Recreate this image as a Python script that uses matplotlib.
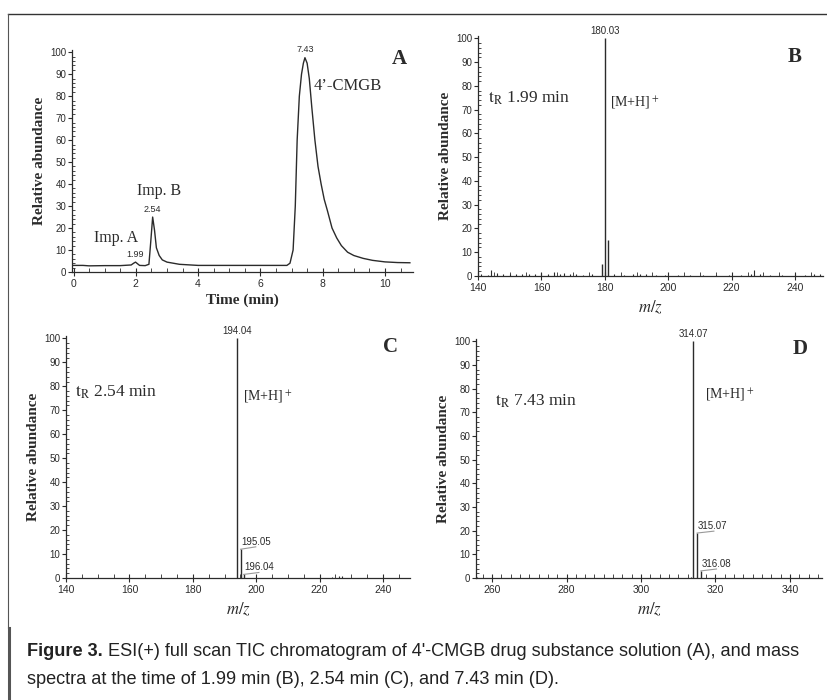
import matplotlib
matplotlib.use("Agg")
import matplotlib.pyplot as plt
from matplotlib.ticker import MultipleLocator
from matplotlib.lines import Line2D

plt.rcParams['mathtext.fontset'] = 'stix'

# ---------------- data ----------------
# Panel A: TIC chromatogram (time in min, relative abundance)
tic_time = [0.0, 0.3, 0.5, 1.0, 1.5, 1.85, 1.93, 1.99, 2.05, 2.12, 2.3, 2.42, 2.48, 2.54,
            2.6, 2.66, 2.75, 2.85, 3.0, 3.2, 3.4, 4.0, 5.0, 6.0, 6.5, 6.85, 6.95, 7.05,
            7.12, 7.18, 7.25, 7.32, 7.38, 7.43, 7.5, 7.57, 7.65, 7.75, 7.85, 7.95, 8.05,
            8.15, 8.3, 8.45, 8.6, 8.8, 9.0, 9.3, 9.6, 10.0, 10.4, 10.8]
tic_abund = [3.0, 3.0, 2.8, 2.9, 2.9, 3.2, 4.0, 4.5, 3.8, 3.0, 2.9, 3.5, 14.0, 25.0,
             19.0, 11.0, 7.5, 5.5, 4.5, 4.0, 3.5, 3.0, 3.0, 3.0, 3.0, 3.0, 4.0, 10.0,
             30.0, 60.0, 80.0, 90.0, 95.0, 97.5, 95.0, 88.0, 75.0, 60.0, 48.0, 40.0, 33.0,
             28.0, 20.0, 15.5, 12.0, 9.0, 7.5, 6.2, 5.3, 4.6, 4.3, 4.2]
tic_peak_times = [1.99, 2.54, 7.43]
tic_peak_labels = ["1.99", "2.54", "7.43"]

# Panel B: spectrum at 1.99 min
b_mz = [179.0, 180.03, 181.0]
b_int = [5.0, 100.0, 15.0]
b_noise_mz = [141, 143, 144, 146, 148, 150, 152, 154, 156, 158, 160, 162, 164, 166, 167, 169,
              171, 173, 176, 183, 186, 189, 191, 193, 196, 199, 203, 207, 211, 215, 219, 223,
              226, 227, 229, 232, 236, 240, 243, 246, 248]
b_noise_int = [0.8, 0.6, 2.5, 1.2, 0.7, 0.9, 1.0, 0.8, 0.7, 1.0, 1.2, 0.8, 1.5, 0.8, 1.2, 1.0,
               0.8, 0.6, 0.7, 0.8, 0.6, 0.9, 1.0, 0.8, 0.5, 0.6, 0.5, 0.6, 0.5, 0.6, 0.5, 0.6,
               1.0, 2.5, 1.0, 0.6, 0.6, 0.7, 0.6, 0.8, 0.8]

# Panel C: spectrum at 2.54 min
c_mz = [194.04, 195.05, 196.04]
c_int = [100.0, 12.0, 1.5]
c_noise_mz = [224, 226, 227]
c_noise_int = [0.6, 1.0, 0.8]

# Panel D: spectrum at 7.43 min
d_mz = [314.07, 315.07, 316.08]
d_int = [100.0, 19.0, 3.0]
d_noise_mz = [256, 313.5, 345]
d_noise_int = [0.5, 0.5, 0.6]

caption_bold = 'Figure 3.'
caption_line1 = " ESI(+) full scan TIC chromatogram of 4'-CMGB drug substance solution (A), and mass"
caption_line2 = 'spectra at the time of 1.99 min (B), 2.54 min (C), and 7.43 min (D).'

# ---------------- figure ----------------
W, H = 827, 700
fig = plt.figure(figsize=(W / 100, H / 100), dpi=100)
fig.patch.set_facecolor('white')

SERIF = 'Liberation Serif'
SANS = 'Liberation Sans'
INK = '#2b2b2b'


def px_axes(left, right, y_top, y_bottom):
    return fig.add_axes([left / W, (H - y_bottom) / H, (right - left) / W, (y_bottom - y_top) / H])


def style(ax, xmaj, xmin):
    for s in ('top', 'right'):
        ax.spines[s].set_visible(False)
    for s in ('left', 'bottom'):
        ax.spines[s].set_color(INK)
        ax.spines[s].set_linewidth(0.9)
    ax.yaxis.set_major_locator(MultipleLocator(10))
    ax.yaxis.set_minor_locator(MultipleLocator(2))
    ax.xaxis.set_major_locator(MultipleLocator(xmaj))
    ax.xaxis.set_minor_locator(MultipleLocator(xmin))
    ax.tick_params(axis='y', which='major', direction='out', length=3, width=0.8,
                   labelsize=7, colors=INK, pad=1)
    ax.tick_params(axis='y', which='minor', direction='in', length=2.5, width=0.6, colors=INK)
    ax.tick_params(axis='x', which='major', direction='inout', length=6, width=0.8,
                   labelsize=7.5, colors=INK, pad=2)
    ax.tick_params(axis='x', which='minor', direction='in', length=3, width=0.6, colors=INK)
    for lab in ax.get_xticklabels() + ax.get_yticklabels():
        lab.set_fontfamily(SANS)
    ax.set_ylim(0, 101)
    ax.set_ylabel('Relative abundance', fontfamily=SERIF, fontweight='bold', fontsize=11,
                  color=INK, labelpad=3)


def mz_label(ax):
    ax.set_xlabel('$m/z$', fontsize=12, color=INK, labelpad=4)


# ---- Panel A ----
axA = px_axes(72, 413, 50, 272)
axA.plot(tic_time, tic_abund, color=INK, lw=1.0)
axA.set_xlim(-0.05, 10.9)
style(axA, 2, 0.5)
axA.set_xlabel('Time (min)', fontfamily=SERIF, fontweight='bold', fontsize=11, color=INK,
               labelpad=3)
for t, lab in zip(tic_peak_times, tic_peak_labels):
    i = tic_time.index(t)
    axA.annotate(lab, (t, tic_abund[i]), xytext=(0, 2.5), textcoords='offset points',
                 ha='center', va='bottom', fontsize=6.5, fontfamily=SANS, color=INK)
axA.text(0.67, 15.3, 'Imp. A', fontfamily=SERIF, fontsize=11.5, color=INK, va='center')
axA.text(2.03, 37, 'Imp. B', fontfamily=SERIF, fontsize=11.5, color=INK, va='center')
axA.text(7.72, 84.7, '4\u2019-CMGB', fontfamily=SERIF, fontsize=12, color=INK, va='center')
axA.text(10.45, 96.8, 'A', fontfamily=SERIF, fontweight='bold', fontsize=15, color=INK,
         ha='center', va='center')


def spectrum(ax, mz, inten, nmz, nint):
    ax.vlines(nmz, 0, nint, color=INK, lw=0.8)
    ax.vlines(mz, 0, inten, color=INK, lw=1.0)


# ---- Panel B ----
axB = px_axes(478, 823, 36, 276)
spectrum(axB, b_mz, b_int, b_noise_mz, b_noise_int)
axB.set_xlim(140, 248.8)
style(axB, 20, 5)
mz_label(axB)
axB.annotate('180.03', (b_mz[1], 100), xytext=(0, 2), textcoords='offset points',
             ha='center', va='bottom', fontsize=7, fontfamily=SANS, color=INK)
axB.text(143.1, 74.6, r'$\mathrm{t}_\mathrm{R}$ 1.99 min', fontfamily=SERIF, fontsize=12.5,
         color=INK, va='center')
axB.text(181.5, 73, r'[M+H]$^+$', fontfamily=SERIF, fontsize=10, color=INK, va='center')
axB.text(239.7, 92, 'B', fontfamily=SERIF, fontweight='bold', fontsize=15, color=INK,
         ha='center', va='center')

# ---- Panel C ----
axC = px_axes(66, 410, 336, 578)
spectrum(axC, c_mz, c_int, c_noise_mz, c_noise_int)
axC.set_xlim(140, 248.5)
style(axC, 20, 5)
mz_label(axC)
axC.annotate('194.04', (c_mz[0], 100), xytext=(0, 2), textcoords='offset points',
             ha='center', va='bottom', fontsize=7, fontfamily=SANS, color=INK)
axC.plot([c_mz[1], c_mz[1] + 4.8], [c_int[1], c_int[1] + 1.0], color='#999999', lw=0.8)
axC.text(c_mz[1] + 0.1, c_int[1] + 1.8, '195.05', fontsize=7, fontfamily=SANS, color=INK)
axC.plot([c_mz[2], c_mz[2] + 4.8], [c_int[2], c_int[2] + 0.8], color='#999999', lw=0.8)
axC.text(c_mz[2] + 0.3, c_int[2] + 1.7, '196.04', fontsize=7, fontfamily=SANS, color=INK)
axC.text(142.8, 77.7, r'$\mathrm{t}_\mathrm{R}$ 2.54 min', fontfamily=SERIF, fontsize=12.5,
         color=INK, va='center')
axC.text(195.8, 75.5, r'[M+H]$^+$', fontfamily=SERIF, fontsize=10, color=INK, va='center')
axC.text(242.2, 96.3, 'C', fontfamily=SERIF, fontweight='bold', fontsize=15, color=INK,
         ha='center', va='center')

# ---- Panel D ----
axD = px_axes(476, 822, 339, 578)
spectrum(axD, d_mz, d_int, d_noise_mz, d_noise_int)
axD.set_xlim(255.7, 348.6)
style(axD, 20, 2.5)
mz_label(axD)
axD.annotate('314.07', (d_mz[0], 100), xytext=(0, 2), textcoords='offset points',
             ha='center', va='bottom', fontsize=7, fontfamily=SANS, color=INK)
axD.plot([d_mz[1], d_mz[1] + 4.5], [d_int[1], d_int[1] + 0.8], color='#999999', lw=0.8)
axD.text(d_mz[1] + 0.1, d_int[1] + 1.8, '315.07', fontsize=7, fontfamily=SANS, color=INK)
axD.plot([d_mz[2], d_mz[2] + 4.2], [d_int[2], d_int[2] + 0.8], color='#999999', lw=0.8)
axD.text(d_mz[2] + 0.2, d_int[2] + 1.7, '316.08', fontsize=7, fontfamily=SANS, color=INK)
axD.text(260.8, 74.5, r'$\mathrm{t}_\mathrm{R}$ 7.43 min', fontfamily=SERIF, fontsize=12.5,
         color=INK, va='center')
axD.text(317.2, 77.4, r'[M+H]$^+$', fontfamily=SERIF, fontsize=10, color=INK, va='center')
axD.text(342.7, 96.7, 'D', fontfamily=SERIF, fontweight='bold', fontsize=15, color=INK,
         ha='center', va='center')

# ---- frame lines ----
fig.add_artist(Line2D([8 / W, 1.0], [1 - 14 / H, 1 - 14 / H], color='#333333', lw=1.0))
fig.add_artist(Line2D([8 / W, 8 / W], [1 - 14 / H, 1 - 628 / H], color='#555555', lw=0.8))
fig.add_artist(Line2D([8.5 / W, 8.5 / W], [1 - 628 / H, 0.0], color='#555555', lw=2.2))

# ---- caption ----
CAP = SANS
CAP_SIZE = 13.1
t1 = fig.text(27 / W, 1 - 651 / H, caption_bold, fontfamily=CAP, fontweight='bold',
              fontsize=CAP_SIZE, color='#222222', va='center')
fig.add_artist(plt.Annotation(caption_line1, xy=(1, 0.5), xycoords=t1, va='center', ha='left',
                              fontfamily=CAP, fontsize=CAP_SIZE, color='#222222',
                              annotation_clip=False))
fig.text(27 / W, 1 - 680 / H, caption_line2,
         fontfamily=CAP, fontsize=CAP_SIZE, color='#222222', va='center')

fig.savefig('out.png', dpi=100, facecolor='white')
